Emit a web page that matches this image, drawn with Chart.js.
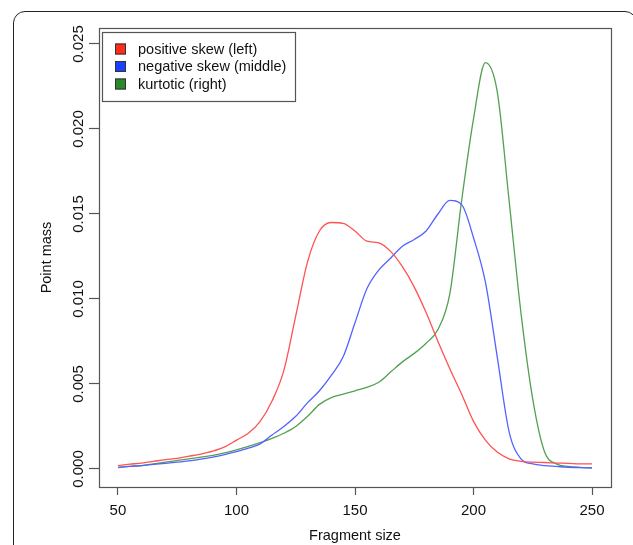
<!DOCTYPE html>
<html>
<head>
<meta charset="utf-8">
<script src="https://cdn.jsdelivr.net/npm/chart.js@4"></script>
<style>
  html, body { margin: 0; padding: 0; background: #fff; overflow: hidden; }
  #wrap { position: relative; width: 633px; height: 545px; overflow: hidden; }
  /* outer card frame, cut by the picture edge on the right and bottom */
  #frame {
    position: absolute; left: 13px; top: 11px; width: 624px; height: 600px;
    border: 1.6px solid #222; border-radius: 12px; box-sizing: border-box;
  }
  #chart { position: absolute; left: 0; top: 0; }
</style>
</head>
<body>
<div id="wrap">
  <div id="frame"></div>
  <canvas id="chart" width="633" height="545"></canvas>
</div>
<script>
/* ── Data ────────────────────────────────────────────────── */
const fragSize = [50, 55, 60, 65, 70, 75, 80, 85, 90, 95,
                  100, 105, 110, 115, 120, 125, 130, 135, 140, 145,
                  150, 155, 160, 165, 170, 175, 180, 185, 190, 195,
                  200, 205, 210, 215, 220, 225, 230, 235, 240, 245, 250];

const positiveSkew = [0.0002, 0.00028, 0.00035, 0.00045, 0.00055, 0.00063, 0.00075, 0.00088, 0.00105, 0.0013,
                      0.0017, 0.0021, 0.0028, 0.0040, 0.0058, 0.0090, 0.0122, 0.0140, 0.0145, 0.01445,
                      0.0140, 0.0134, 0.0133, 0.0128, 0.0119, 0.0107, 0.0092, 0.0075, 0.0059, 0.0044,
                      0.0028, 0.0017, 0.0010, 0.0006, 0.00045, 0.0004, 0.00038, 0.00035, 0.00033, 0.0003, 0.0003];

const negativeSkew = [0.00008, 0.00015, 0.0002, 0.00027, 0.00033, 0.0004, 0.00048, 0.00058, 0.0007, 0.00085,
                      0.00102, 0.00122, 0.00148, 0.0020, 0.0025, 0.0031, 0.0039, 0.0046, 0.0055, 0.0066,
                      0.0086, 0.0106, 0.0117, 0.0124, 0.0131, 0.0135, 0.0140, 0.0150, 0.0158, 0.01555,
                      0.0136, 0.0110, 0.0066, 0.0022, 0.0006, 0.0003, 0.0002, 0.00015, 0.0001, 0.00008, 0.00005];

const kurtotic = [0.0001, 0.00015, 0.0002, 0.0003, 0.0004, 0.0005, 0.0006, 0.0007, 0.0008, 0.00095,
                  0.00113, 0.00133, 0.00155, 0.0018, 0.0021, 0.0025, 0.0031, 0.0038, 0.0042, 0.0044,
                  0.0046, 0.0048, 0.0051, 0.0057, 0.0063, 0.0068, 0.0074, 0.0082, 0.0103, 0.0158,
                  0.0206, 0.0239, 0.0222, 0.0158, 0.0092, 0.0041, 0.0010, 0.0003, 0.00015, 0.0001, 0.00008];

const seriesNames = ['positive skew (left)', 'negative skew (middle)', 'kurtotic (right)'];
const xTicks = [50, 100, 150, 200, 250];
const yTicks = [0, 0.005, 0.010, 0.015, 0.020, 0.025];

/* ── Styles ──────────────────────────────────────────────── */
const FONT = "'Liberation Sans', Arial, sans-serif";
const AXIS = '#555';
const lineColors = ['#FF5252', '#5462FF', '#52A052'];
const keyColors = ['#FF2B1C', '#1A40FF', '#2A8A2A'];

const toPoints = ys => fragSize.map((x, i) => ({ x, y: ys[i] }));

/* ── Plugins: plot box + legend ──────────────────────────── */
const plotBox = {
  id: 'plotBox',
  afterDraw(chart) {
    const { ctx, chartArea: a } = chart;
    ctx.save();
    ctx.strokeStyle = AXIS;
    ctx.lineWidth = 1.2;
    ctx.strokeRect(Math.round(a.left) + 0.5, Math.round(a.top) + 0.5,
                   Math.round(a.right - a.left), Math.round(a.bottom - a.top));
    ctx.restore();
  }
};

const boxedLegend = {
  id: 'boxedLegend',
  afterDraw(chart) {
    const { ctx } = chart;
    ctx.save();
    ctx.strokeStyle = AXIS;
    ctx.lineWidth = 1.2;
    ctx.strokeRect(102.5, 32.5, 193, 69);
    ctx.font = '14.5px ' + FONT;
    ctx.textBaseline = 'middle';
    chart.data.datasets.forEach((ds, i) => {
      const cy = 49 + i * 17.5;
      ctx.fillStyle = keyColors[i];
      ctx.fillRect(115, cy - 5.5, 11, 11);
      ctx.strokeStyle = '#333';
      ctx.lineWidth = 1;
      ctx.strokeRect(115.5, cy - 5, 10, 10);
      ctx.fillStyle = '#111';
      ctx.fillText(ds.label, 138, cy + 0.5);
    });
    ctx.restore();
  }
};

/* ── Chart ───────────────────────────────────────────────── */
new Chart(document.getElementById('chart'), {
  type: 'line',
  data: {
    datasets: [positiveSkew, negativeSkew, kurtotic].map((ys, i) => ({
      label: seriesNames[i],
      data: toPoints(ys),
      borderColor: lineColors[i],
      borderWidth: 1.3,
      pointRadius: 0,
      fill: false,
      cubicInterpolationMode: 'monotone'
    }))
  },
  options: {
    responsive: false,
    animation: false,
    layout: { padding: { top: 28, right: 22, bottom: 0, left: 0 } },
    plugins: { legend: { display: false }, tooltip: { enabled: false } },
    scales: {
      x: {
        type: 'linear',
        min: 42, max: 258,
        afterFit: s => { s.height = 58; },
        afterBuildTicks: s => { s.ticks = xTicks.map(v => ({ value: v })); },
        border: { display: false },
        grid: { drawOnChartArea: false, drawTicks: true, tickLength: 8, color: AXIS, tickWidth: 1.2 },
        ticks: { color: '#111', font: { family: FONT, size: 15 }, padding: 7, maxRotation: 0, autoSkip: false },
        title: { display: true, text: 'Fragment size', color: '#111', font: { family: FONT, size: 14.5 }, padding: { top: 0, bottom: 0 } }
      },
      y: {
        type: 'linear',
        min: -0.00106, max: 0.02594,
        afterFit: s => { s.width = 99; },
        afterBuildTicks: s => { s.ticks = yTicks.map(v => ({ value: v })); },
        border: { display: false },
        grid: { drawOnChartArea: false, drawTicks: true, tickLength: 10, color: AXIS, tickWidth: 1.2 },
        ticks: {
          color: '#111', font: { family: FONT, size: 15 },
          minRotation: 90, maxRotation: 90, crossAlign: 'center', padding: -9, autoSkip: false,
          callback: v => v.toFixed(3)
        },
        title: { display: true, text: 'Point mass', color: '#111', font: { family: FONT, size: 14.5 }, padding: { top: 38, bottom: 0 } }
      }
    }
  },
  plugins: [plotBox, boxedLegend]
});
</script>
</body>
</html>
